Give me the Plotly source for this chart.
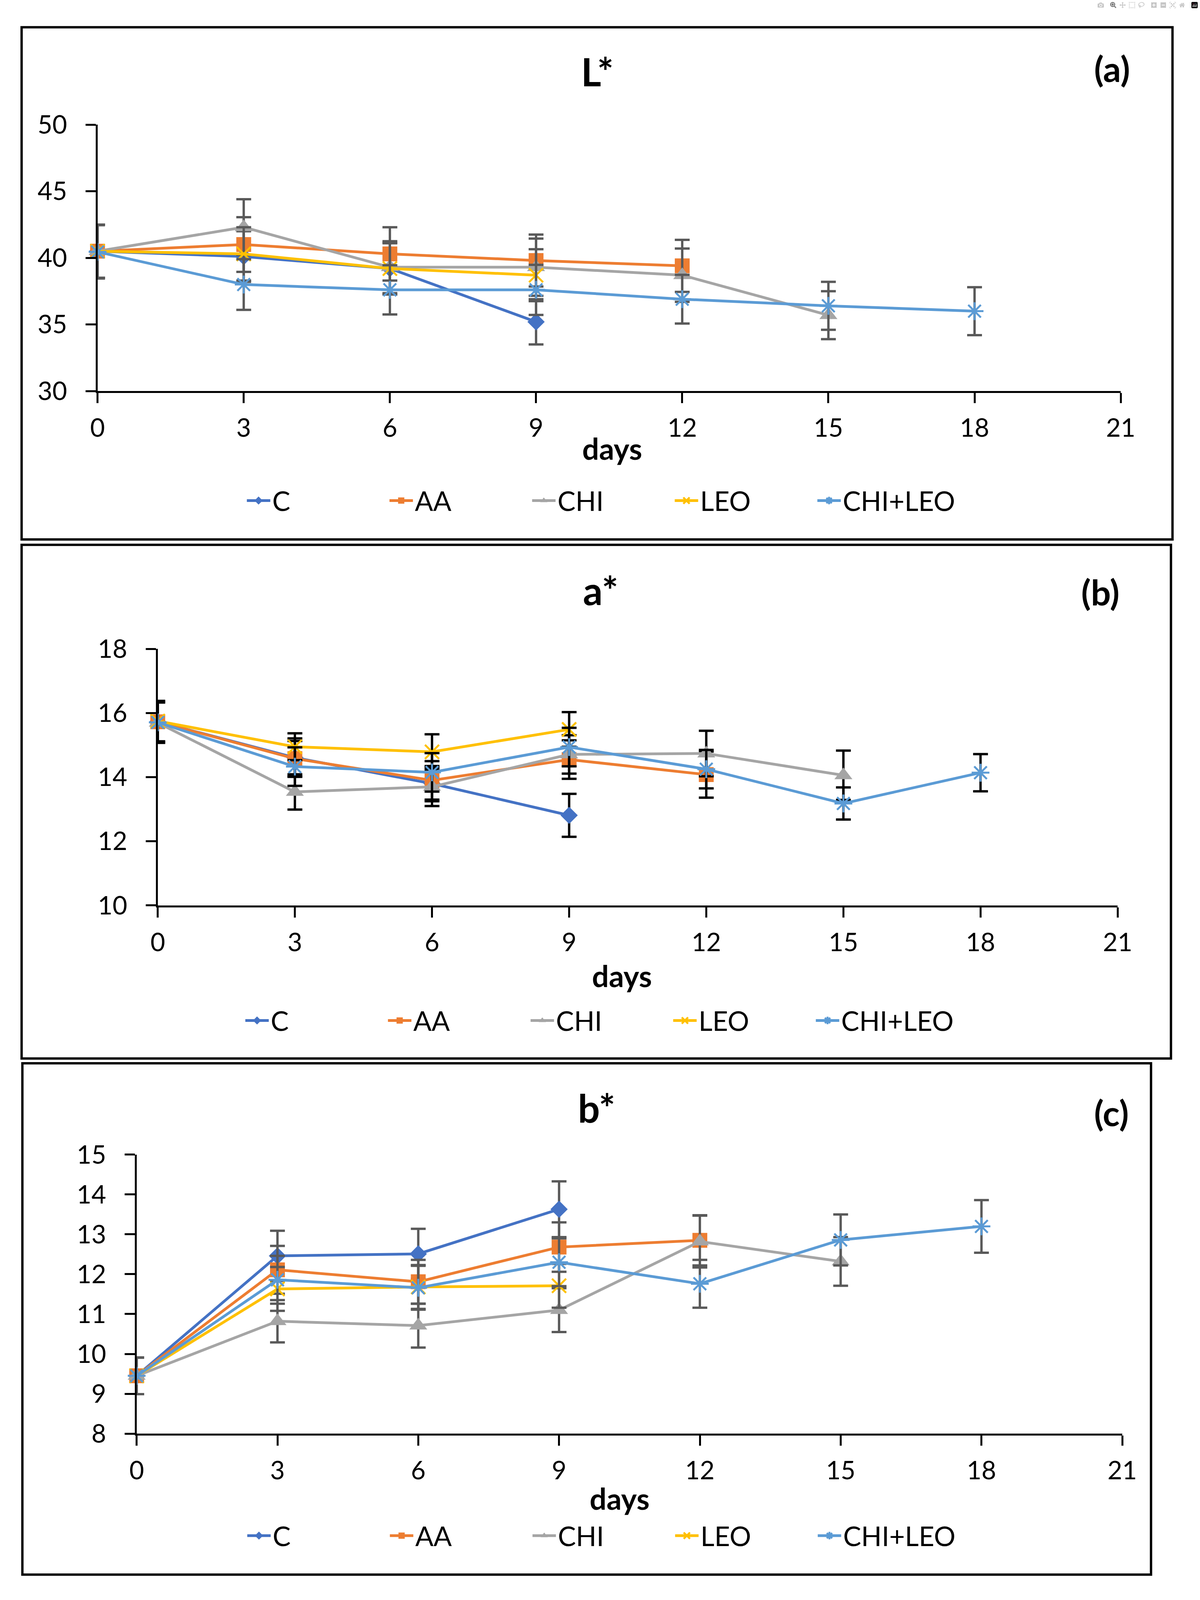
import json
import plotly.graph_objects as go

W, H = 3071, 5289

days = [0, 3, 6, 9, 12, 15, 18]
series_names = ["C", "AA", "CHI", "LEO", "CHI+LEO"]

# ---- Panel (a): L* ----
L_C = [40.5, 40.1, 39.2, 35.2]
L_AA = [40.5, 41.0, 40.3, 39.8, 39.4]
L_CHI = [40.5, 42.3, 39.3, 39.3, 38.7, 35.7]
L_LEO = [40.5, 40.3, 39.2, 38.7]
L_CHILEO = [40.45, 38.0, 37.6, 37.6, 36.9, 36.4, 36.0]
L_C_err = [2.0, 1.9, 1.9, 1.7]
L_AA_err = [2.0, 2.05, 2.0, 1.95, 1.95]
L_CHI_err = [2.0, 2.1, 1.95, 2.15, 2.0, 1.8]
L_LEO_err = [2.0, 2.0, 1.95, 1.95]
L_CHILEO_err = [2.0, 1.9, 1.85, 1.88, 1.83, 1.8, 1.8]

# ---- Panel (b): a* ----
A_C = [15.73, 14.61, 13.80, 12.81]
A_AA = [15.73, 14.58, 13.90, 14.55, 14.08]
A_CHI = [15.70, 13.54, 13.70, 14.71, 14.74, 14.06]
A_LEO = [15.75, 14.95, 14.79, 15.49]
A_CHILEO = [15.71, 14.33, 14.15, 14.94, 14.25, 13.18, 14.14]
A_C_err = [0.63, 0.6, 0.55, 0.67]
A_AA_err = [0.63, 0.55, 0.6, 0.6, 0.72]
A_CHI_err = [0.63, 0.55, 0.6, 0.6, 0.71, 0.77]
A_LEO_err = [0.63, 0.42, 0.55, 0.54]
A_CHILEO_err = [0.63, 0.6, 0.6, 0.6, 0.6, 0.5, 0.58]

# ---- Panel (c): b* ----
B_C = [9.45, 12.46, 12.51, 13.63]
B_AA = [9.45, 12.11, 11.81, 12.68, 12.85]
B_CHI = [9.45, 10.82, 10.71, 11.10, 12.82, 12.32]
B_LEO = [9.45, 11.63, 11.68, 11.71]
B_CHILEO = [9.45, 11.86, 11.66, 12.30, 11.76, 12.86, 13.20]
B_C_err = [0.46, 0.63, 0.63, 0.7]
B_AA_err = [0.46, 0.6, 0.55, 0.62, 0.63]
B_CHI_err = [0.46, 0.53, 0.55, 0.55, 0.65, 0.61]
B_LEO_err = [0.46, 0.55, 0.55, 0.55]
B_CHILEO_err = [0.46, 0.6, 0.55, 0.6, 0.6, 0.64, 0.66]

x_ticks = [0, 3, 6, 9, 12, 15, 18, 21]
panel_titles = ["L*", "a*", "b*"]
panel_labels = ["(a)", "(b)", "(c)"]
x_title = "days"

colors = ["#4472C4", "#ED7D31", "#A5A5A5", "#FFC000", "#5B9BD5"]
symbols = ["diamond", "square", "triangle-up", "x-thin-open", "asterisk-open"]
msizes = [34, 38, 40, 36, 38]
mlinew = [0, 0, 0, 5, 5]

FONT = "Lato, 'Noto Sans', sans-serif"
TICK_SIZE, LEG_SIZE, LEG_ENTRY = 74, 78, 330
TITLE_SIZE, LABEL_SIZE, DAYS_SIZE = 112, 102, 86


def fx(px):
    return px / W


def fy(py):
    return 1 - py / H


panels = [
    dict(vals=[L_C, L_AA, L_CHI, L_LEO, L_CHILEO],
         errs=[L_C_err, L_AA_err, L_CHI_err, L_LEO_err, L_CHILEO_err],
         yrange=[30, 50], dtick=5, errcolor="#595959",
         xdom=[235, 2903], ydom=[1264, 366],
         border=[37, 38, 3038, 1764],
         title=(1538, 186), label=(2880, 176), days=(1577, 1457), legend=(1549, 1633)),
    dict(vals=[A_C, A_AA, A_CHI, A_LEO, A_CHILEO],
         errs=[A_C_err, A_AA_err, A_CHI_err, A_LEO_err, A_CHILEO_err],
         yrange=[10, 18], dtick=2, errcolor="#000000",
         xdom=[392, 2895], ydom=[2997, 2133],
         border=[37, 1782, 3034, 3513],
         title=(1547, 1934), label=(2850, 1940), days=(1602, 3233), legend=(1545, 3385)),
    dict(vals=[B_C, B_AA, B_CHI, B_LEO, B_CHILEO],
         errs=[B_C_err, B_AA_err, B_CHI_err, B_LEO_err, B_CHILEO_err],
         yrange=[8, 15], dtick=1, errcolor="#595959",
         xdom=[337, 2907], ydom=[4777, 3837],
         border=[39, 3529, 2982, 5252],
         title=(1537, 3678), label=(2879, 3695), days=(1596, 4995), legend=(1550, 5121)),
]

fig = go.Figure()
shapes = []
annotations = []
layout = {}
size_keys = {}

for p_i, p in enumerate(panels):
    n = p_i + 1
    xa = "x" if n == 1 else f"x{n}"
    ya = "y" if n == 1 else f"y{n}"
    leg = "legend" if n == 1 else f"legend{n}"
    for s_i, name in enumerate(series_names):
        yv = p["vals"][s_i]
        fig.add_trace(go.Scatter(
            x=days[:len(yv)], y=yv, name=name, mode="lines+markers",
            xaxis=xa, yaxis=ya, legend=leg, cliponaxis=False,
            line=dict(color=colors[s_i], width=7),
            marker=dict(symbol=symbols[s_i], size=msizes[s_i], color=colors[s_i],
                        line=dict(width=mlinew[s_i], color=colors[s_i])),
            error_y=dict(type="data", array=p["errs"][s_i], visible=True,
                         color=p["errcolor"], thickness=6, width=19),
        ))
    xkey = "xaxis" if n == 1 else f"xaxis{n}"
    ykey = "yaxis" if n == 1 else f"yaxis{n}"
    layout[xkey] = dict(
        domain=[fx(p["xdom"][0]), fx(p["xdom"][1])], anchor=ya,
        range=[0, 21], tickmode="array", tickvals=x_ticks,
        showline=True, linecolor="black", linewidth=5, mirror=False,
        ticks="outside", ticklen=26, tickwidth=5, tickcolor="black",
        showgrid=False, zeroline=False, ticklabelstandoff=8,
        tickfont=dict(family=FONT, size=TICK_SIZE, color="black"),
    )
    layout[ykey] = dict(
        domain=[fy(p["ydom"][0]), fy(p["ydom"][1])], anchor=xa,
        range=p["yrange"], dtick=p["dtick"], tick0=p["yrange"][0],
        showline=True, linecolor="black", linewidth=5, mirror=False,
        ticks="outside", ticklen=26, tickwidth=5, tickcolor="black",
        showgrid=False, zeroline=False, ticklabelstandoff=34,
        tickfont=dict(family=FONT, size=TICK_SIZE, color="black"),
    )
    layout[leg] = dict(
        orientation="h", x=fx(p["legend"][0]), y=fy(p["legend"][1]),
        xanchor="center", yanchor="middle", xref="paper", yref="paper",
        font=dict(family=FONT, size=LEG_SIZE, color="black"),
        bgcolor="rgba(0,0,0,0)", itemsizing="trace", itemwidth=60,
        entrywidth=LEG_ENTRY, entrywidthmode="pixels",
    )
    size_keys[f"{xkey}.tickfont.size"] = TICK_SIZE
    size_keys[f"{ykey}.tickfont.size"] = TICK_SIZE
    size_keys[f"{leg}.font.size"] = LEG_SIZE
    size_keys[f"{leg}.entrywidth"] = LEG_ENTRY

    b = p["border"]
    shapes.append(dict(type="rect", xref="paper", yref="paper",
                       x0=fx(b[0]), x1=fx(b[2]), y0=fy(b[3]), y1=fy(b[1]),
                       line=dict(color="black", width=6), fillcolor="rgba(0,0,0,0)"))
    for text, pos, size in [(panel_titles[p_i], p["title"], TITLE_SIZE),
                            (panel_labels[p_i], p["label"], LABEL_SIZE),
                            (x_title, p["days"], DAYS_SIZE)]:
        size_keys[f"annotations[{len(annotations)}].font.size"] = size
        annotations.append(dict(text=f"<b>{text}</b>", xref="paper", yref="paper",
                                x=fx(pos[0]), y=fy(pos[1]),
                                xanchor="center", yanchor="middle", showarrow=False,
                                font=dict(family=FONT, size=size, color="black")))

fig.update_layout(
    width=W, height=H, margin=dict(l=0, r=0, t=0, b=0),
    paper_bgcolor="white", plot_bgcolor="white",
    showlegend=True, shapes=shapes, annotations=annotations,
    font=dict(family=FONT, color="black"),
    **layout,
)

# The browser viewport may be shorter than the requested page height;
# fit the figure to the visible window so no part of the chart is cut off,
# and shrink text a little when the height is compressed.
fit_script = (
    "document.body.style.margin='0';"
    "document.body.style.overflow='hidden';"
    "var gd=document.getElementById('{plot_id}');"
    "var w=window.innerWidth, h=window.innerHeight;"
    "gd.style.width=w+'px'; gd.style.height=h+'px';"
    "var base=" + json.dumps(size_keys) + ";"
    "var f=Math.min(1, Math.sqrt(h/" + str(H) + "));"
    "var upd={width: w, height: h};"
    "for (var k in base) { upd[k]=Math.round(base[k]*f); }"
    "Plotly.relayout(gd, upd);"
)

fig.write_html("out.html", post_script=fit_script)
